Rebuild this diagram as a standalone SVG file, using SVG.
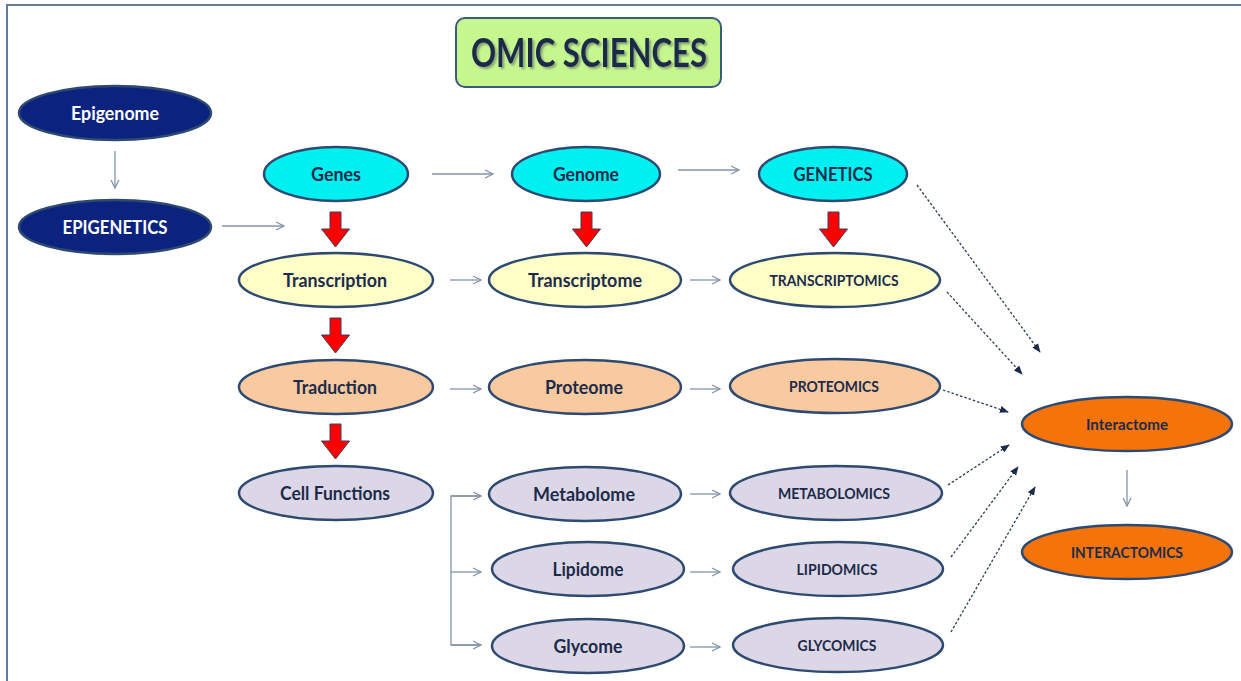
<svg xmlns="http://www.w3.org/2000/svg" width="1241" height="681" viewBox="0 0 1241 681">
<style>
.n{stroke:#2f4a70;stroke-width:2.5}
.cy{fill:#00f0f2}.ye{fill:#ffffc8}.pe{fill:#f9c9a0}.la{fill:#dcd7e6}.or{fill:#f57409}.nv{fill:#0b237e}
text{font-family:Lato,"Open Sans","Liberation Sans",sans-serif;font-weight:700;text-anchor:middle;fill:#1c2b4a}
.t{font-size:19px}.u{font-size:16px}.w{fill:#ffffff}
.g{stroke:#8593a8;stroke-width:1.3;fill:none}
.d{stroke:#2a3a5a;stroke-width:1.3;fill:none;stroke-dasharray:2.5 2}
.r{fill:#ff0000;stroke:#3a3f60;stroke-width:1}
</style>
<defs>
<marker id="oa" viewBox="0 0 10 10" refX="9" refY="5" markerWidth="10" markerHeight="10" markerUnits="userSpaceOnUse" orient="auto"><path d="M1 1L9 5L1 9" fill="none" stroke="#8593a8" stroke-width="1.3"/></marker>
<marker id="da" viewBox="0 0 10 10" refX="9" refY="5" markerWidth="9" markerHeight="9" markerUnits="userSpaceOnUse" orient="auto"><path d="M0 1L10 5L0 9z" fill="#1c2b4a"/></marker>
<filter id="sh" x="-10%" y="-20%" width="130%" height="150%"><feDropShadow dx="2" dy="2" stdDeviation="1.2" flood-color="#6a7a6a" flood-opacity="0.7"/></filter>
</defs>
<rect x="0" y="0" width="1241" height="681" fill="#ffffff"/>
<rect x="7" y="5" width="1240" height="700" fill="none" stroke="#5f7c9c" stroke-width="2"/>
<g id="title"><rect x="456" y="18" width="265" height="69" rx="9" fill="#c6f78e" stroke="#3a5a80" stroke-width="2"/>
<text x="589" y="67" font-size="40" textLength="236" lengthAdjust="spacingAndGlyphs" fill="#15264a" filter="url(#sh)">OMIC SCIENCES</text></g>

<g id="connectors">
<line class="g" x1="115" y1="151" x2="115" y2="188" marker-end="url(#oa)"/>
<line class="g" x1="222" y1="226" x2="284" y2="226" marker-end="url(#oa)"/>
<line class="g" x1="432" y1="174" x2="493" y2="174" marker-end="url(#oa)"/>
<line class="g" x1="678" y1="170" x2="739" y2="170" marker-end="url(#oa)"/>
<line class="g" x1="450" y1="280" x2="481" y2="280" marker-end="url(#oa)"/>
<line class="g" x1="690" y1="280" x2="720" y2="280" marker-end="url(#oa)"/>
<line class="g" x1="450" y1="389" x2="481" y2="389" marker-end="url(#oa)"/>
<line class="g" x1="690" y1="389" x2="720" y2="389" marker-end="url(#oa)"/>
<line class="g" x1="690" y1="494" x2="720" y2="494" marker-end="url(#oa)"/>
<line class="g" x1="690" y1="572" x2="720" y2="572" marker-end="url(#oa)"/>
<line class="g" x1="690" y1="647" x2="720" y2="647" marker-end="url(#oa)"/>
<line class="g" x1="1127" y1="470" x2="1127" y2="506" marker-end="url(#oa)"/>
<path class="g" d="M481 496H451V645H481" />
<line class="g" x1="451" y1="496" x2="481" y2="496" marker-end="url(#oa)"/>
<line class="g" x1="451" y1="572" x2="481" y2="572" marker-end="url(#oa)"/>
<line class="g" x1="451" y1="645" x2="481" y2="645" marker-end="url(#oa)"/>
<line class="d" x1="917" y1="185" x2="1040" y2="352" marker-end="url(#da)"/>
<line class="d" x1="947" y1="292" x2="1022" y2="374" marker-end="url(#da)"/>
<line class="d" x1="943" y1="390" x2="1008" y2="412" marker-end="url(#da)"/>
<line class="d" x1="948" y1="485" x2="1009" y2="445" marker-end="url(#da)"/>
<line class="d" x1="951" y1="557" x2="1018" y2="467" marker-end="url(#da)"/>
<line class="d" x1="951" y1="632" x2="1035" y2="487" marker-end="url(#da)"/>
<path class="r" d="M330 212h11v17h8.5l-14 18l-14-18h8.5z"/>
<path class="r" d="M581 212h11v17h8.5l-14 18l-14-18h8.5z"/>
<path class="r" d="M828 212h11v17h8.5l-14 18l-14-18h8.5z"/>
<path class="r" d="M330 318h11v17h8.5l-14 18l-14-18h8.5z"/>
<path class="r" d="M330 424h11v17h8.5l-14 18l-14-18h8.5z"/>
</g>

<g id="epigenome"><ellipse class="n nv" cx="115" cy="113" rx="96" ry="27"/><text class="t w" x="115" y="120" textLength="88" lengthAdjust="spacingAndGlyphs">Epigenome</text></g>
<g id="epigenetics"><ellipse class="n nv" cx="115" cy="227" rx="96" ry="27"/><text class="t w" x="115" y="234" textLength="105" lengthAdjust="spacingAndGlyphs">EPIGENETICS</text></g>

<g id="genes"><ellipse class="n cy" cx="336" cy="174" rx="72" ry="27"/><text class="t" x="336" y="181" textLength="50" lengthAdjust="spacingAndGlyphs">Genes</text></g>
<g id="genome"><ellipse class="n cy" cx="586" cy="174" rx="74" ry="27"/><text class="t" x="586" y="181" textLength="66" lengthAdjust="spacingAndGlyphs">Genome</text></g>
<g id="genetics"><ellipse class="n cy" cx="833" cy="174" rx="74" ry="27"/><text class="t" x="833" y="181" textLength="79" lengthAdjust="spacingAndGlyphs">GENETICS</text></g>

<g id="transcription"><ellipse class="n ye" cx="336" cy="280" rx="97" ry="27"/><text class="t" x="335" y="287" textLength="104" lengthAdjust="spacingAndGlyphs">Transcription</text></g>
<g id="transcriptome"><ellipse class="n ye" cx="585" cy="280" rx="96" ry="27"/><text class="t" x="585" y="287" textLength="114" lengthAdjust="spacingAndGlyphs">Transcriptome</text></g>
<g id="transcriptomics"><ellipse class="n ye" cx="835" cy="280" rx="105" ry="27"/><text class="u" x="834" y="286" textLength="129" lengthAdjust="spacingAndGlyphs">TRANSCRIPTOMICS</text></g>

<g id="traduction"><ellipse class="n pe" cx="336" cy="387" rx="97" ry="27"/><text class="t" x="335" y="394" textLength="84" lengthAdjust="spacingAndGlyphs">Traduction</text></g>
<g id="proteome"><ellipse class="n pe" cx="585" cy="387" rx="96" ry="27"/><text class="t" x="584" y="394" textLength="78" lengthAdjust="spacingAndGlyphs">Proteome</text></g>
<g id="proteomics"><ellipse class="n pe" cx="835" cy="386" rx="105" ry="27"/><text class="u" x="834" y="392" textLength="90" lengthAdjust="spacingAndGlyphs">PROTEOMICS</text></g>

<g id="cellfunctions"><ellipse class="n la" cx="336" cy="493" rx="97" ry="27"/><text class="t" x="335" y="500" textLength="110" lengthAdjust="spacingAndGlyphs">Cell Functions</text></g>
<g id="metabolome"><ellipse class="n la" cx="585" cy="494" rx="96" ry="27"/><text class="t" x="584" y="501" textLength="102" lengthAdjust="spacingAndGlyphs">Metabolome</text></g>
<g id="lipidome"><ellipse class="n la" cx="588" cy="569" rx="96" ry="27"/><text class="t" x="588" y="576" textLength="71" lengthAdjust="spacingAndGlyphs">Lipidome</text></g>
<g id="glycome"><ellipse class="n la" cx="588" cy="646" rx="96" ry="27"/><text class="t" x="588" y="653" textLength="69" lengthAdjust="spacingAndGlyphs">Glycome</text></g>
<g id="metabolomics"><ellipse class="n la" cx="836" cy="493" rx="106" ry="27"/><text class="u" x="834" y="499" textLength="112" lengthAdjust="spacingAndGlyphs">METABOLOMICS</text></g>
<g id="lipidomics"><ellipse class="n la" cx="838" cy="569" rx="105" ry="27"/><text class="u" x="837" y="575" textLength="81" lengthAdjust="spacingAndGlyphs">LIPIDOMICS</text></g>
<g id="glycomics"><ellipse class="n la" cx="838" cy="645" rx="105" ry="27"/><text class="u" x="837" y="651" textLength="79" lengthAdjust="spacingAndGlyphs">GLYCOMICS</text></g>

<g id="interactome"><ellipse class="n or" cx="1127" cy="424" rx="105" ry="27"/><text class="u" x="1127" y="430" textLength="82" lengthAdjust="spacingAndGlyphs">Interactome</text></g>
<g id="interactomics"><ellipse class="n or" cx="1127" cy="552" rx="105" ry="27"/><text class="u" x="1127" y="558" textLength="112" lengthAdjust="spacingAndGlyphs">INTERACTOMICS</text></g>
</svg>
